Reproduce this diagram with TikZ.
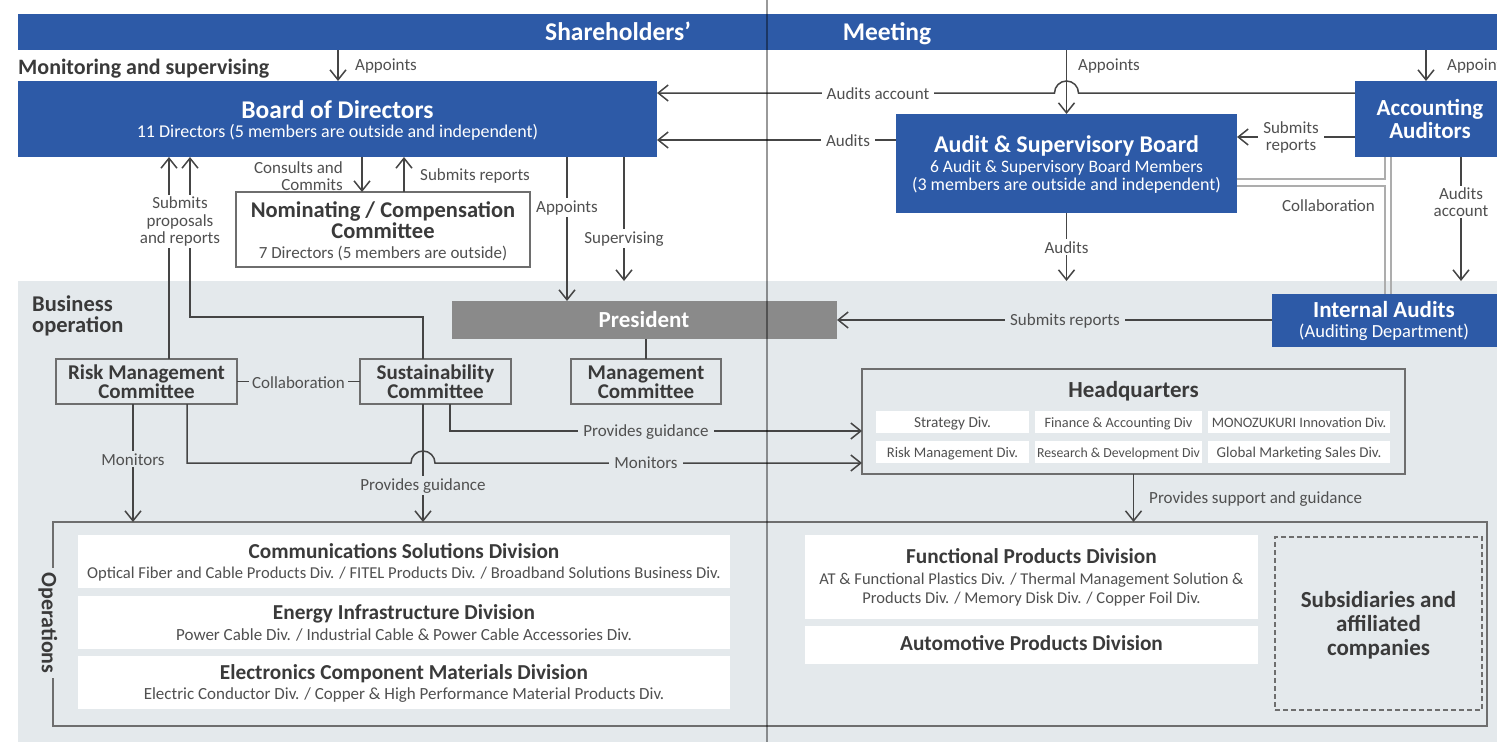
\documentclass[tikz,border=0pt]{standalone}
\usepackage{fontspec}
\setmainfont{Carlito}
\usetikzlibrary{arrows.meta}
\definecolor{blueC}{HTML}{2D5AA7}
\definecolor{bgC}{HTML}{E4E9EC}
\definecolor{presC}{HTML}{8A8A8A}
\definecolor{lineC}{HTML}{454545}
\definecolor{boxC}{HTML}{6E6E6E}
\definecolor{txtC}{HTML}{3A3A3A}
\definecolor{lblC}{HTML}{505050}
\definecolor{colC}{HTML}{ADADAD}
\newcommand\fsz[1]{\fontsize{#1}{#1}\selectfont}
\newcommand\mybox[6]{\node[#2, minimum width={(#5-#3)*1pt}, minimum height={(#6-#4)*1pt}] (#1) at ({(#3+#5)/2},{(#4+#6)/2}) {};}
\tikzset{
  bluebox/.style={fill=blueC, draw=none, inner sep=0pt, outer sep=0pt},
  presbox/.style={fill=presC, draw=none, inner sep=0pt, outer sep=0pt},
  linebox/.style={draw=boxC, line width=1.2pt, inner sep=0pt, outer sep=0pt},
  whitebox/.style={fill=white, draw=none, inner sep=0pt, outer sep=0pt},
  dashbox/.style={draw=boxC, line width=1.2pt, dash pattern=on 5pt off 3pt, inner sep=0pt, outer sep=0pt},
  con/.style={draw=lineC, line width=1.5pt},
  arr/.style={con, -{Straight Barb[length=10pt,width=16pt]}},
  colline/.style={draw=colC, line width=1.3pt},
  t/.style={anchor=base, inner sep=0pt, text=txtC},
  tw/.style={anchor=base, inner sep=0pt, text=white},
  lb/.style={anchor=base, inner xsep=5pt, inner ysep=2pt, text=lblC, font={\fsz{17}}},
  lbw/.style={lb, fill=white},
  lbg/.style={lb, fill=bgC},
  sub/.style={anchor=base, inner sep=0pt, text=lblC, font={\fsz{15}}},
}
\begin{document}
\begin{tikzpicture}[x=1pt,y=-1pt]
\clip (0,0) rectangle (1497,742);
\fill[white] (0,0) rectangle (1497,742);
% business operation background
\fill[bgC] (18,281) rectangle (1497,742);
\coordinate (bgtop) at (0,281);

% top bar
\mybox{bar}{bluebox}{18}{14}{1497}{50}
\node[tw, font={\bfseries\fsz{25.5}}] (shT) at (618,40) {Shareholders’};
\node[tw, font={\bfseries\fsz{25.5}}] (meT) at (887,40) {Meeting};
\node[t, anchor=base west, font={\bfseries\fsz{22}}] (monT) at (18,74) {Monitoring and supervising};

% Board of Directors
\mybox{bod}{bluebox}{18}{81}{657}{157}
\node[tw, font={\bfseries\fsz{25.5}}] (bodT) at (337.5,118) {Board of Directors};
\node[tw, font={\fsz{18}}] (bodS) at (337.5,137) {11 Directors (5 members are outside and independent)};

% Audit & Supervisory Board
\mybox{asb}{bluebox}{896}{114}{1237}{213}
\node[tw, font={\bfseries\fsz{24}}] (asbT) at (1066.5,152) {Audit \& Supervisory Board};
\node[tw, font={\fsz{17.5}}] (asbS1) at (1066.5,172) {6 Audit \& Supervisory Board Members};
\node[tw, font={\fsz{18}}] (asbS2) at (1066.5,190) {(3 members are outside and independent)};

% Accounting Auditors
\mybox{aa}{bluebox}{1355}{81}{1497}{157}
\node[tw, font={\bfseries\fsz{23}}] (aaT1) at (1430,115) {Accounting};
\node[tw, font={\bfseries\fsz{23}}] (aaT2) at (1430,138) {Auditors};

% Internal Audits
\mybox{ia}{bluebox}{1272}{294}{1497}{347}
\node[tw, font={\bfseries\fsz{23}}] (iaT1) at (1384,317) {Internal Audits};
\node[tw, font={\fsz{18.5}}] (iaT2) at (1384,337) {(Auditing Department)};

% Nominating committee
\mybox{nc}{linebox, fill=white}{236}{192}{530}{267}
\node[t, font={\bfseries\fsz{22.5}}] (ncT1) at (383,217) {Nominating / Compensation};
\node[t, font={\bfseries\fsz{22.5}}] (ncT2) at (383,238) {Committee};
\node[t, font={\fsz{17}}, text=lblC] (ncT3) at (383,258) {7 Directors (5 members are outside)};

% President & committees
\mybox{pres}{presbox}{452}{301}{837}{339}
\node[tw, font={\bfseries\fsz{23}}] (presT) at (644,327) {President};
\mybox{mc}{linebox}{571}{359}{721}{404}
\node[t, font={\bfseries\fsz{21}}] (mcT1) at (646,379) {Management};
\node[t, font={\bfseries\fsz{21}}] (mcT2) at (646,398) {Committee};
\mybox{rmc}{linebox}{56}{359}{237}{404}
\node[t, font={\bfseries\fsz{21}}] (rmcT1) at (146.5,379) {Risk Management};
\node[t, font={\bfseries\fsz{21}}] (rmcT2) at (146.5,398) {Committee};
\mybox{sc}{linebox}{360}{359}{511}{404}
\node[t, font={\bfseries\fsz{21}}] (scT1) at (435.5,379) {Sustainability};
\node[t, font={\bfseries\fsz{21}}] (scT2) at (435.5,398) {Committee};
\node[t, anchor=base west, font={\bfseries\fsz{22.5}}] (boT1) at (32,311) {Business};
\node[t, anchor=base west, font={\bfseries\fsz{22.5}}] (boT2) at (32,332) {operation};

% Headquarters
\mybox{hq}{linebox}{862}{369}{1405}{474}
\node[t, font={\bfseries\fsz{23}}] (hqT) at (1133.5,397) {Headquarters};
\mybox{hq1}{whitebox}{876}{411}{1029}{433}
\mybox{hq2}{whitebox}{1035}{411}{1202}{433}
\mybox{hq3}{whitebox}{1208}{411}{1390}{433}
\mybox{hq4}{whitebox}{876}{441}{1029}{463}
\mybox{hq5}{whitebox}{1035}{441}{1202}{463}
\mybox{hq6}{whitebox}{1208}{441}{1390}{463}
\node[sub, font={\fsz{15.3}}] (hq1T) at (952.5,427) {Strategy Div.};
\node[sub, font={\fsz{14.3}}] (hq2T) at (1118.5,427) {Finance \& Accounting Div};
\node[sub, font={\fsz{14.4}}] (hq3T) at (1299,427) {MONOZUKURI Innovation Div.};
\node[sub, font={\fsz{14.6}}] (hq4T) at (952.5,457) {Risk Management Div.};
\node[sub, font={\fsz{13.8}}] (hq5T) at (1118.5,457) {Research \& Development Div};
\node[sub, font={\fsz{15}}] (hq6T) at (1299,457) {Global Marketing Sales Div.};

% Operations
\mybox{ops}{linebox}{53}{522}{1487}{726}
\node[rotate=-90, fill=bgC, inner sep=4pt, text=txtC, font={\bfseries\fsz{22}}] (opsT) at (48,623) {Operations};
\mybox{d1}{whitebox}{78}{535}{730}{588}
\node[t, font={\bfseries\fsz{21.3}}] (d1T) at (404,558) {Communications Solutions Division};
\node[t, text=lblC, font={\fsz{16.6}}] (d1S) at (404,578) {Optical Fiber and Cable Products Div. / FITEL Products Div. / Broadband Solutions Business Div.};
\mybox{d2}{whitebox}{78}{596}{730}{649}
\node[t, font={\bfseries\fsz{21.3}}] (d2T) at (404,619) {Energy Infrastructure Division};
\node[t, text=lblC, font={\fsz{17}}] (d2S) at (404,640) {Power Cable Div. / Industrial Cable \& Power Cable Accessories Div.};
\mybox{d3}{whitebox}{78}{656}{730}{709}
\node[t, font={\bfseries\fsz{21.3}}] (d3T) at (404,679) {Electronics Component Materials Division};
\node[t, text=lblC, font={\fsz{17}}] (d3S) at (404,699) {Electric Conductor Div. / Copper \& High Performance Material Products Div.};
\mybox{fp}{whitebox}{805}{535}{1258}{619}
\node[t, font={\bfseries\fsz{21.3}}] (fpT) at (1031.5,563) {Functional Products Division};
\node[t, text=lblC, font={\fsz{16.5}}] (fpS1) at (1031.5,584) {AT \& Functional Plastics Div. / Thermal Management Solution \&};
\node[t, text=lblC, font={\fsz{16.5}}] (fpS2) at (1031.5,603) {Products Div. / Memory Disk Div. / Copper Foil Div.};
\mybox{ap}{whitebox}{805}{626}{1258}{664}
\node[t, font={\bfseries\fsz{21.3}}] (apT) at (1031.5,650) {Automotive Products Division};
\mybox{subs}{dashbox}{1275}{537}{1482}{710}
\node[t, font={\bfseries\fsz{23}}] (subsT1) at (1378.5,607) {Subsidiaries and};
\node[t, font={\bfseries\fsz{23}}] (subsT2) at (1378.5,631) {affiliated};
\node[t, font={\bfseries\fsz{23}}] (subsT3) at (1378.5,655) {companies};

% ---- connectors ----
\draw[arr] (bar.south -| 338,0) -- (bod.north -| 338,0);
\draw[arr] (bar.south -| asb.north) -- (asb.north);
\draw[arr] (bar.south -| 1426,0) -- (aa.north -| 1426,0);
\draw[arr] (aa.west |- 0,93) -- (1078.5,93) arc[start angle=0, end angle=-180, radius=12] -- (bod.east |- 0,93);
\draw[arr] (asb.west |- 0,140) -- (bod.east |- 0,140);
\draw[arr] (aa.west |- 0,137) -- (asb.east |- 0,137);
\draw[arr] (aa.south -| 1461,0) -- (bgtop -| 1461,0);
\draw[arr] (asb.south) -- (bgtop -| asb.south);
% collaboration double lines
\draw[colline] (asb.east |- 0,179) -| (1385,0 |- aa.south);
\draw[colline] (asb.east |- 0,186) -| (1385,0 |- ia.north);
\draw[colline] (1391,0 |- aa.south) -- (1391,0 |- ia.north);
\draw[arr] (ia.west |- 0,320) -- (pres.east |- 0,320);
% BoD lower connectors
\draw[arr] (rmc.north -| 169,0) -- (bod.south -| 169,0);
\draw[arr] (sc.north -| 423,0) |- (190,317) -- (bod.south -| 190,0);
\draw[arr] (bod.south -| 362,0) -- (nc.north -| 362,0);
\draw[arr] (nc.north -| 404,0) -- (bod.south -| 404,0);
\draw[arr] (bod.south -| 567,0) -- (pres.north -| 567,0);
\draw[arr] (bod.south -| 624,0) -- (bgtop -| 624,0);
\draw[con] (pres.south -| mc.north) -- (mc.north);
\draw[con] (rmc.east) -- (sc.west);
\draw[arr] (rmc.south -| 133,0) -- (ops.north -| 133,0);
\draw[arr] (rmc.south -| 187,0) |- (411,463) arc[start angle=180, end angle=360, radius=12] -- (hq.west |- 0,463);
\draw[arr] (sc.south -| 450,0) |- (hq.west |- 0,431);
\draw[arr] (sc.south -| 423,0) -- (ops.north -| 423,0);
\draw[arr] (hq.south) -- (ops.north -| hq.south);

% ---- labels ----
\node[lb, anchor=base west] (l1) at (350,70) {Appoints};
\node[lb, anchor=base west] (l2) at (1073,70) {Appoints};
\node[lb, anchor=base west] (l3) at (1442,70) {Appoints};
\node[lbw] (l4) at (878,99) {Audits account};
\node[lbw] (l5) at (848,146) {Audits};
\node[lbw, anchor=center, align=center] (l6) at (1291,137.5) {Submits\\reports};
\node[lbw, anchor=center, align=center] (l7) at (1461,202) {Audits\\account};
\node[lbw] (l8) at (1066.5,253) {Audits};
\node[lb] (l9) at (1328.5,211) {Collaboration};
\node[lbw, anchor=center, align=center, font={\fontsize{17}{17.5}\selectfont}] (l10) at (180,221.5) {Submits\\proposals\\and reports};
\node[lb, anchor=east, align=right, inner xsep=3pt] (l11) at (346,176) {Consults and\\Commits};
\node[lb, anchor=base west] (l12) at (415,180) {Submits reports};
\node[lbw] (l13) at (567,212) {Appoints};
\node[lbw] (l14) at (624,243) {Supervising};
\node[lbg, inner xsep=3pt] (l15) at (298.5,388) {Collaboration};
\node[lbg] (l16) at (133,465) {Monitors};
\node[lbg] (l17) at (646,468) {Monitors};
\node[lbg] (l18) at (423,490) {Provides guidance};
\node[lbg] (l19) at (646,436) {Provides guidance};
\node[lbg] (l20) at (1065,325) {Submits reports};
\node[lb, anchor=base west] (l21) at (1144,503) {Provides support and guidance};

% page gutter
\draw[black, opacity=0.4, line width=2pt] (767,0) -- (767,742);
\end{tikzpicture}
\end{document}
